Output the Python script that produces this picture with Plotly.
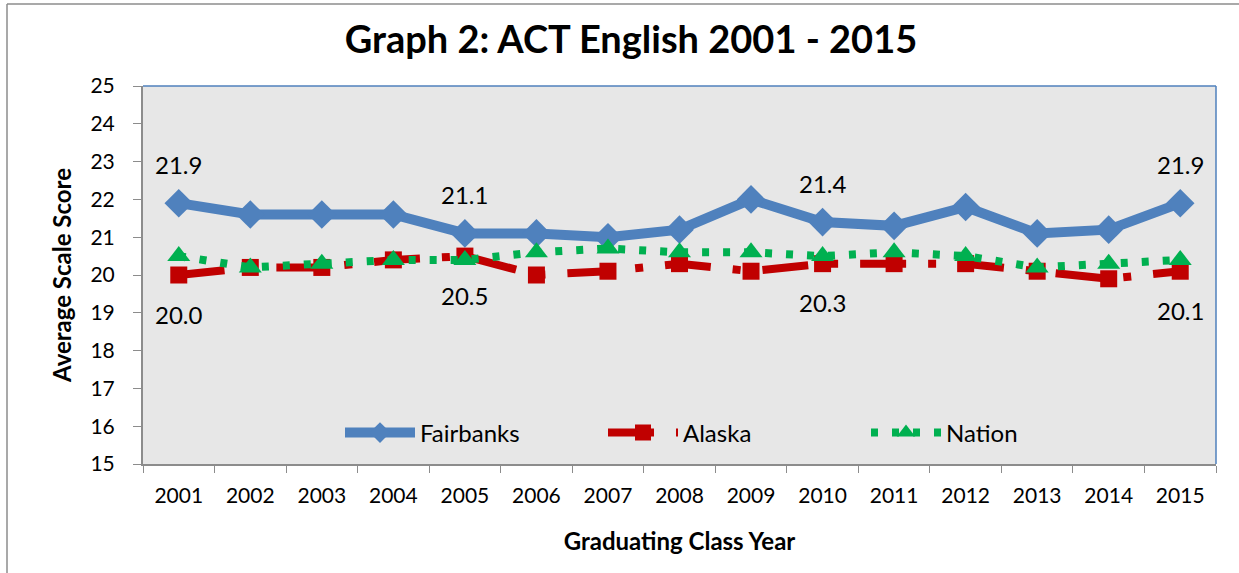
import plotly.graph_objects as go

years = list(range(2001, 2016))
fairbanks = [21.9, 21.6, 21.6, 21.6, 21.1, 21.1, 21.0, 21.2, 22.0, 21.4, 21.3, 21.8, 21.1, 21.2, 21.9]
alaska = [20.0, 20.2, 20.2, 20.4, 20.5, 20.0, 20.1, 20.3, 20.1, 20.3, 20.3, 20.3, 20.1, 19.9, 20.1]
nation = [20.5, 20.2, 20.3, 20.4, 20.4, 20.6, 20.7, 20.6, 20.6, 20.5, 20.6, 20.5, 20.2, 20.3, 20.4]
label_years = [2001, 2005, 2010, 2015]
y_ticks = list(range(15, 26))

FONT = "Lato"
W, H = 1239, 573
ML, MR, MT, MB = 143, 23, 86, 109
pw = W - ML - MR
ph = H - MT - MB

fig = go.Figure()
fig.add_trace(go.Scatter(
    x=years, y=fairbanks, name="Fairbanks", mode="lines+markers",
    line=dict(color="#4F81BD", width=10),
    marker=dict(symbol="diamond", size=22, color="#4F81BD"),
))
fig.add_trace(go.Scatter(
    x=years, y=alaska, name="Alaska", mode="lines+markers",
    line=dict(color="#C00000", width=8, dash="46px,22px,8px,22px"),
    marker=dict(symbol="square", size=17, color="#C00000"),
))
fig.add_trace(go.Scatter(
    x=years, y=nation, name="Nation", mode="lines+markers",
    line=dict(color="#00B050", width=8, dash="7px,14px"),
    marker=dict(symbol="triangle-up", size=20, color="#00B050"),
))

annotations = []
for yr in label_years:
    i = years.index(yr)
    annotations.append(dict(x=yr, y=fairbanks[i], text=f"{fairbanks[i]:.1f}", showarrow=False,
                            yshift=39, font=dict(family=FONT, size=24, color="black")))
    annotations.append(dict(x=yr, y=alaska[i], text=f"{alaska[i]:.1f}", showarrow=False,
                            yshift=-39, font=dict(family=FONT, size=24, color="black")))


def px_x(p):
    return (p - ML) / pw


def px_y(p):
    return (H - MB - p) / ph


shapes = [
    dict(type="line", xref="paper", yref="paper", x0=0, x1=1, y0=1, y1=1,
         line=dict(color="#4F81BD", width=1.5)),
    dict(type="line", xref="paper", yref="paper", x0=1, x1=1, y0=0, y1=1,
         line=dict(color="#4F81BD", width=1.5)),
    dict(type="line", xref="paper", yref="paper", x0=px_x(7), x1=px_x(7), y0=px_y(4), y1=px_y(580),
         line=dict(color="#8C8C8C", width=1.5)),
    dict(type="line", xref="paper", yref="paper", x0=px_x(7), x1=px_x(1245), y0=px_y(4), y1=px_y(4),
         line=dict(color="#8C8C8C", width=1.5)),
]

boundaries = [y - 0.5 for y in years] + [years[-1] + 0.5]

fig.update_layout(
    width=W, height=H,
    margin=dict(l=ML, r=MR, t=MT, b=MB),
    paper_bgcolor="white",
    plot_bgcolor="#E7E7E7",
    font=dict(family=FONT, color="black"),
    title=dict(text="<b>Graph 2: ACT English 2001 - 2015</b>", x=631 / W, xref="container", xanchor="center",
               y=1 - 40 / H, yref="container", yanchor="middle", font=dict(family=FONT, size=38, color="black")),
    xaxis=dict(
        type="linear", range=[years[0] - 0.5, years[-1] + 0.5],
        tickmode="array", tickvals=years, ticktext=[str(y) for y in years], ticks="",
        minor=dict(tickmode="array", tickvals=boundaries, ticks="outside", ticklen=7,
                   tickcolor="#8C8C8C", showgrid=False),
        showgrid=False, showline=True, linecolor="#8C8C8C", linewidth=2,
        tickfont=dict(family=FONT, size=21), zeroline=False, ticklabelstandoff=12,
        title=dict(text="<b>Graduating Class Year</b>", font=dict(family=FONT, size=24), standoff=27),
        fixedrange=True,
    ),
    yaxis=dict(
        range=[15, 25], tickmode="array", tickvals=y_ticks, ticks="outside", ticklen=8, tickcolor="#8C8C8C",
        showgrid=False, showline=True, linecolor="#8C8C8C", linewidth=2, zeroline=False,
        tickfont=dict(family=FONT, size=21), ticklabelstandoff=14,
        title=dict(text="<b>Average Scale Score</b>", font=dict(family=FONT, size=24), standoff=12),
    ),
    legend=dict(
        orientation="h", x=px_x(340), xanchor="left", y=px_y(433), yanchor="middle",
        bgcolor="rgba(0,0,0,0)", font=dict(family=FONT, size=24),
        entrywidth=178, entrywidthmode="pixels", itemwidth=70,
    ),
    annotations=annotations,
    shapes=shapes,
    showlegend=True,
)

fig.write_html("out.html", config={"displayModeBar": False},
               post_script="document.body.style.margin='0';document.body.style.padding='0';")
